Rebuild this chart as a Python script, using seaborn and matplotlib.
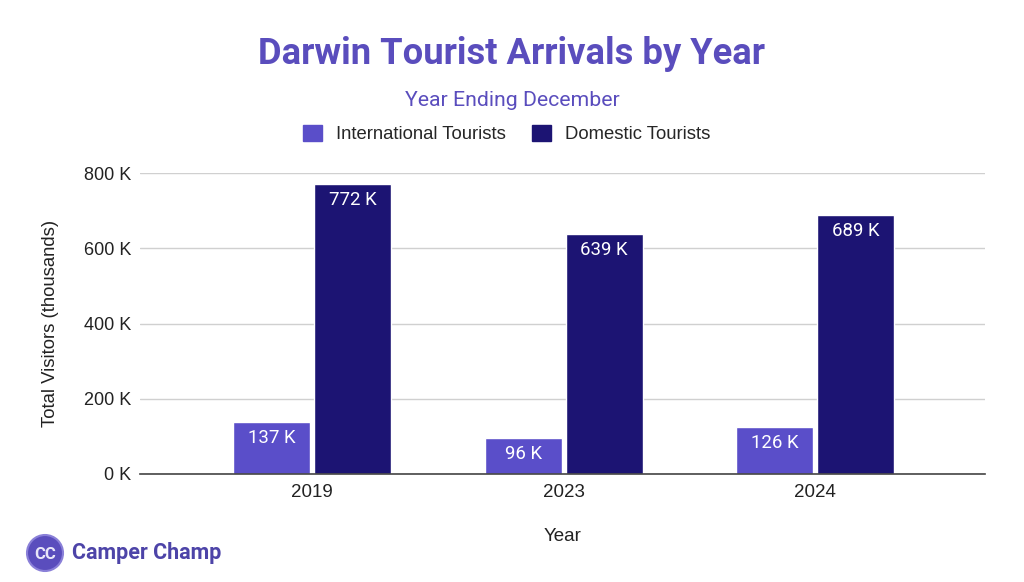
import matplotlib
matplotlib.use("Agg")
import matplotlib.pyplot as plt
from matplotlib.patches import Ellipse
import seaborn as sns
import pandas as pd

# data
years = ["2019", "2023", "2024"]
international = [137, 96, 126]
domestic = [772, 639, 689]
series_names = ["International Tourists", "Domestic Tourists"]

purple = "#5a4ec9"
navy = "#1c1473"
title_col = "#5a4dbd"

df = pd.DataFrame({
    "Year": years * 2,
    "Visitors": international + domestic,
    "Type": [series_names[0]] * len(years) + [series_names[1]] * len(years),
})

sns.set_theme(style="white")
plt.rcParams['font.family'] = ['Liberation Sans', 'DejaVu Sans']
roboto = ['Roboto', 'DejaVu Sans']

fig = plt.figure(figsize=(10.24, 5.82), dpi=100)
ax = fig.add_axes([0.137, 0.1856, 0.825, 0.5171])

sns.barplot(data=df, x="Year", y="Visitors", hue="Type",
            palette=[purple, navy], width=0.645, gap=0.05,
            saturation=1, ax=ax, legend=False)

ax.set_ylim(0, 800)
ax.set_xlim(-0.684, 2.676)
ax.set_yticks([0, 200, 400, 600, 800])
ax.set_yticklabels([f"{v} K" for v in [0, 200, 400, 600, 800]])
ax.tick_params(axis='x', length=0, labelsize=13.5, colors="#222222", pad=7)
ax.tick_params(axis='y', length=0, labelsize=13, colors="#222222", pad=6.5)
ax.yaxis.grid(True, color="#d0d0d0", linewidth=1)
ax.set_axisbelow(True)
for s in ["top", "right", "left"]:
    ax.spines[s].set_visible(False)
ax.spines["bottom"].set_color("#444444")
ax.spines["bottom"].set_linewidth(1.2)

ax.set_xlabel("Year", fontsize=13.5, color="#222222", labelpad=20)
ax.set_ylabel("Total Visitors (thousands)", fontsize=13.3, color="#222222", labelpad=18)

# value labels inside top of bars
for cont in ax.containers:
    labels = [f"{int(round(b.get_height()))} K" for b in cont]
    ax.bar_label(cont, labels=labels, padding=-18, color="white",
                 fontsize=13.4, family=roboto)

# title, subtitle
fig.text(0.5, 0.908, "Darwin Tourist Arrivals by Year", ha="center", va="center",
         fontsize=26.2, fontweight="bold", color=title_col, family=roboto)
fig.text(0.5, 0.828, "Year Ending December", ha="center", va="center",
         fontsize=15.3, color=title_col, family=roboto)

# legend
handles = [plt.Rectangle((0, 0), 1, 1, color=c) for c in [purple, navy]]
fig.legend(handles, series_names, loc="center", bbox_to_anchor=(0.495, 0.770),
           ncol=2, frameon=False, handlelength=1.0, handleheight=1.0,
           columnspacing=1.4, handletextpad=0.8,
           prop={'family': ['Liberation Sans', 'DejaVu Sans'], 'size': 13.3})

# logo
cx, cy = 45 / 1024, 1 - 553 / 582
circ = Ellipse((cx, cy), 36 / 1024, 36 / 582, transform=fig.transFigure,
               facecolor=title_col, edgecolor="#8a80d8", linewidth=1.5)
fig.patches.append(circ)
fig.text(cx, cy - 0.002, "CC", ha="center", va="center", fontsize=12,
         fontweight="bold", color="#e8e6f8", family=roboto)
fig.text(72 / 1024, cy, "Camper Champ", ha="left", va="center",
         fontsize=15.5, fontweight="bold", color="#4d44a8", family=roboto)

fig.savefig("out.png", dpi=100, facecolor="white")
